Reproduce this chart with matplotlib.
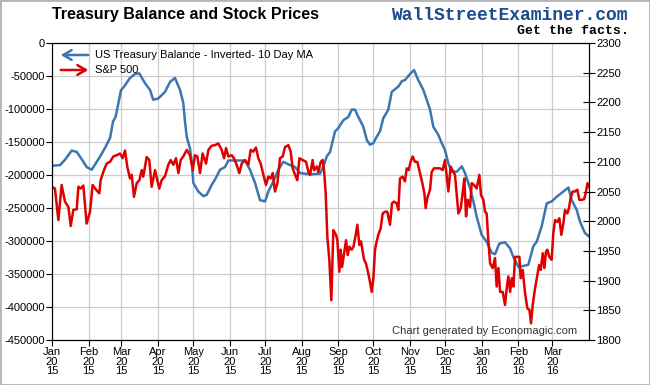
#importing dependencies
import matplotlib
matplotlib.use('Agg')
import matplotlib.pyplot as plt
import pandas as pd
from matplotlib.patches import Rectangle
from matplotlib.ticker import FuncFormatter

plt.rcParams['font.family'] = ['Liberation Sans', 'DejaVu Sans']

#Data: days counted from 1 Jan 2015
tsy_days = [0, 6.8, 11, 16.7, 21, 25.2, 29.5, 33.7, 38, 40.8, 45, 49.3, 51.8, 54, 56.5, 58.5,
            62, 66.2, 70.5, 74.1, 79, 83.2, 86, 90.3, 96, 100.2, 104.4, 108.7, 111.5, 113,
            114.4, 117.2, 119, 120, 124.2, 128.5, 131.4, 135.6, 138.4, 142.7, 146.9, 149.7,
            155.4, 163.9, 168.1, 172.4, 176.6, 180.9, 183.7, 187.9, 192.2, 196.4, 202.1,
            206.4, 210.6, 219.1, 227.6, 230.4, 233.3, 236.1, 240.3, 243.1, 247.4, 251.6,
            254.5, 257.3, 260.1, 264.4, 267.3, 270, 272.8, 275.7, 278.5, 281.3, 285.6, 288.5,
            291.3, 294.1, 297, 299.8, 304, 307.4, 311, 315.3, 318.2, 321, 323.8, 328, 331,
            333.7, 336.5, 339.4, 343.7, 348, 350.7, 355, 357.8, 360.6, 364.9, 369.1, 373.4,
            376.2, 379.8, 384.7, 388.9, 391.7, 396, 399.7, 404.5, 408.7, 411.6, 415.8, 420.1,
            424.3, 428.6, 432.8, 438.5, 441.3, 445.6, 448.4, 452.6, 456]
tsy_vals = [-186000, -185000, -177000, -163000, -165000, -176000, -188000, -192000, -180000,
            -172000, -159000, -144000, -119000, -112000, -90000, -72000, -64000, -53000,
            -47000, -46000, -61000, -71000, -86000, -84000, -74000, -59000, -53000, -71000,
            -91000, -120000, -142000, -160000, -185000, -212000, -225000, -232000, -230000,
            -215000, -207000, -192000, -188000, -178000, -178000, -178000, -192000, -212000,
            -238000, -240000, -225000, -210000, -192000, -180000, -185000, -188000, -197000,
            -199000, -198000, -187000, -172000, -165000, -134000, -129000, -117000, -112000,
            -101000, -101000, -112000, -127000, -147000, -154000, -152000, -142000, -134000,
            -114000, -101000, -74000, -70000, -66000, -58000, -56000, -47000, -41000, -56000,
            -71000, -86000, -101000, -127000, -139000, -152000, -162000, -182000, -195000,
            -195000, -187000, -197000, -220000, -240000, -263000, -291000, -301000, -318000,
            -320000, -304000, -302000, -311000, -324000, -339000, -338000, -336000, -308000,
            -301000, -278000, -243000, -240000, -233000, -227000, -219000, -238000, -253000,
            -271000, -288000, -293000]

sp_days = [0, 2.5, 5.4, 8.2, 11, 13.9, 15.9, 18.1, 21, 22.4, 24.3, 26.6, 29.4, 32.3, 34.5,
           37.4, 40.2, 41.3, 43.6, 46.4, 49.3, 52.1, 54.9, 57.7, 60, 62, 63.9, 66.2, 67.7,
           69.6, 71.9, 74.2, 76.2, 77.5, 80.4, 82.6, 84.6, 87.5, 89.4, 91.1, 93.1, 96, 98.8,
           100.8, 103, 105.3, 107.3, 109.3, 111.5, 114.4, 117.2, 119.5, 121.4, 123.4, 125.7,
           127.9, 130.8, 132.8, 135.6, 138.4, 141.2, 144.1, 146.1, 147.8, 149.7, 152.6, 154.5,
           156.8, 159.1, 161.1, 163.9, 166.7, 168.7, 170.9, 173.2, 175.2, 177.2, 179.5, 181.7,
           183.7, 185.7, 187.4, 189.4, 191.4, 193.6, 195.9, 197.9, 200.7, 202.7, 204.4, 206.4,
           208.3, 210.1, 212.9, 215.7, 217.7, 219.1, 221.3, 222.5, 224.8, 226.2, 228.2, 229.8,
           231, 232.4, 233.8, 235.5, 237.2, 238.9, 241.2, 242.3, 244, 245.1, 246.3, 248, 249.7,
           251.1, 252.5, 254.5, 256, 257.9, 259.3, 261, 262.4, 263.8, 265, 266.6, 268.6, 270,
           271.5, 272.9, 274.3, 275.7, 277.1, 279.1, 280.8, 282.8, 284.7, 287, 288.7, 290.4,
           292.7, 294.1, 295.5, 297.7, 299.7, 301.2, 302.9, 304.5, 306.3, 308.2, 310.2, 312.5,
           314.5, 316.2, 317.3, 318.7, 321, 322.4, 324.4, 326.7, 329.5, 331.7, 333.7, 335.2,
           336.6, 338.5, 340.8, 342.2, 343.6, 345.1, 347.1, 348.7, 350.1, 351.6, 353, 355,
           356.4, 358.4, 360.6, 362.9, 364.3, 366.3, 367.7, 369.1, 370.5, 372, 374.2, 376.2,
           377.6, 379.1, 380.5, 382.7, 384.7, 386.1, 387.5, 389, 390.4, 391.8, 393.2, 395.2,
           396.9, 398, 399.7, 401.7, 403.7, 405.4, 406.8, 408.2, 410.2, 412.1, 413.6, 415,
           416.7, 418.1, 419.5, 420.6, 422.3, 424.3, 425.7, 427.2, 429.1, 430.8, 432.5, 434.2,
           435.6, 437.6, 439, 440.4, 442.1, 444.1, 446.1, 447.8, 449.8, 451.8, 453.2, 454.7,
           456.3]
sp_vals = [2058, 2055, 2002, 2061, 2033, 2024, 1992, 2019, 2020, 2058, 2055, 2060, 1996, 2016,
           2061, 2053, 2047, 2069, 2083, 2097, 2100, 2109, 2111, 2114, 2106, 2119, 2092, 2072,
           2078, 2041, 2064, 2069, 2086, 2075, 2108, 2103, 2058, 2086, 2069, 2055, 2069, 2076,
           2095, 2103, 2095, 2106, 2081, 2103, 2109, 2120, 2111, 2086, 2111, 2109, 2081, 2114,
           2097, 2120, 2127, 2128, 2131, 2120, 2106, 2123, 2109, 2111, 2106, 2095, 2081, 2097,
           2103, 2095, 2120, 2117, 2124, 2106, 2097, 2078, 2061, 2075, 2072, 2081, 2050, 2064,
           2106, 2109, 2125, 2128, 2117, 2089, 2078, 2069, 2106, 2103, 2100, 2083, 2078, 2103,
           2086, 2092, 2083, 2100, 2103, 2086, 2047, 1974, 1935, 1867, 1985, 1977, 1968, 1915,
           1952, 1923, 1946, 1968, 1943, 1957, 1952, 1957, 1977, 1994, 1960, 1966, 1949, 1935,
           1929, 1912, 1898, 1881, 1904, 1952, 1966, 1977, 1988, 2013, 2016, 2016, 1994, 2030,
           2033, 2030, 2019, 2072, 2075, 2067, 2089, 2086, 2100, 2109, 2100, 2100, 2081, 2064,
           2047, 2022, 2039, 2053, 2083, 2089, 2089, 2089, 2086, 2103, 2075, 2050, 2092, 2083,
           2078, 2047, 2013, 2022, 2047, 2072, 2008, 2036, 2024, 2064, 2061, 2055, 2078, 2044,
           2036, 2016, 2013, 1968, 1929, 1921, 1938, 1890, 1921, 1881, 1881, 1859, 1887, 1907,
           1881, 1904, 1890, 1940, 1940, 1940, 1904, 1918, 1879, 1853, 1851, 1828, 1859, 1887,
           1909, 1926, 1918, 1946, 1921, 1949, 1952, 1940, 1935, 1980, 2002, 1999, 2005, 1977,
           1996, 2019, 2013, 2022, 2039, 2050, 2050, 2053, 2036, 2036, 2037, 2047, 2064, 2057]

start = pd.Timestamp('2015-01-01')
tsy_dates = start + pd.to_timedelta(tsy_days, unit='D')
sp_dates = start + pd.to_timedelta(sp_days, unit='D')
month_ticks = pd.date_range('2015-01-01', '2016-03-01', freq='MS')

fig = plt.figure(figsize=(6.5, 3.85), dpi=100)
ax = fig.add_axes([52/650, 45/385, 537/650, 297/385])

ax.plot(tsy_dates, tsy_vals, color='#3b76b0', lw=1.8)
ax.set_xlim(start, pd.Timestamp('2016-04-01'))
ax.set_ylim(-450000, 0)
ax.set_yticks(range(-450000, 1, 50000))
ax.yaxis.set_major_formatter(FuncFormatter(lambda v, p: '%d' % v))
ax.set_xticks(month_ticks)
ax.set_xticklabels([d.strftime('%b\n20\n%y') for d in month_ticks], linespacing=0.95)
ax.grid(color='#cccccc', lw=0.9)
ax.tick_params(axis='y', direction='out', length=4, pad=1, labelsize=8)
ax.tick_params(axis='x', direction='out', length=4, pad=1, labelsize=8)
for s in ax.spines.values():
    s.set_color('black')

ax2 = ax.twinx()
ax2.plot(sp_dates, sp_vals, color='#e00000', lw=1.8)
ax2.set_ylim(1800, 2300)
ax2.set_yticks(range(1800, 2301, 50))
ax2.tick_params(axis='y', direction='inout', length=8, pad=1, labelsize=8)

#Legend drawn by hand: arrows point to the axis each series uses
ax.annotate('', xy=(58, 330), xytext=(91, 330), xycoords='figure pixels',
            arrowprops=dict(arrowstyle='->,head_length=0.6,head_width=0.35', color='#3b76b0', lw=1.8))
ax.annotate('', xy=(91, 315), xytext=(58, 315), xycoords='figure pixels',
            arrowprops=dict(arrowstyle='->,head_length=0.6,head_width=0.35', color='#e00000', lw=1.8))
fig.text(95/650, 330/385, 'US Treasury Balance - Inverted- 10 Day MA', fontsize=8, va='center')
fig.text(95/650, 315/385, 'S&P 500', fontsize=8, va='center')

fig.text(577/650, 54/385, 'Chart generated by Economagic.com', fontsize=8, ha='right', va='center',
         color='#333333')
fig.text(52/650, 370/385, 'Treasury Balance and Stock Prices', fontsize=11.5, weight='bold', va='center')
fig.text(628/650, 370/385, 'WallStreetExaminer.com', family='Liberation Mono', weight='bold',
         fontsize=13, color='#1c4c8c', ha='right', va='center')
fig.text(629/650, 354/385, 'Get the facts.', family='Liberation Mono', weight='bold',
         fontsize=9.5, color='black', ha='right', va='center')

fig.patches.append(Rectangle((0, 0), 1, 1, transform=fig.transFigure, fill=False,
                             edgecolor='#b4b4b4', lw=2))

plt.savefig('out.png', dpi=100)
